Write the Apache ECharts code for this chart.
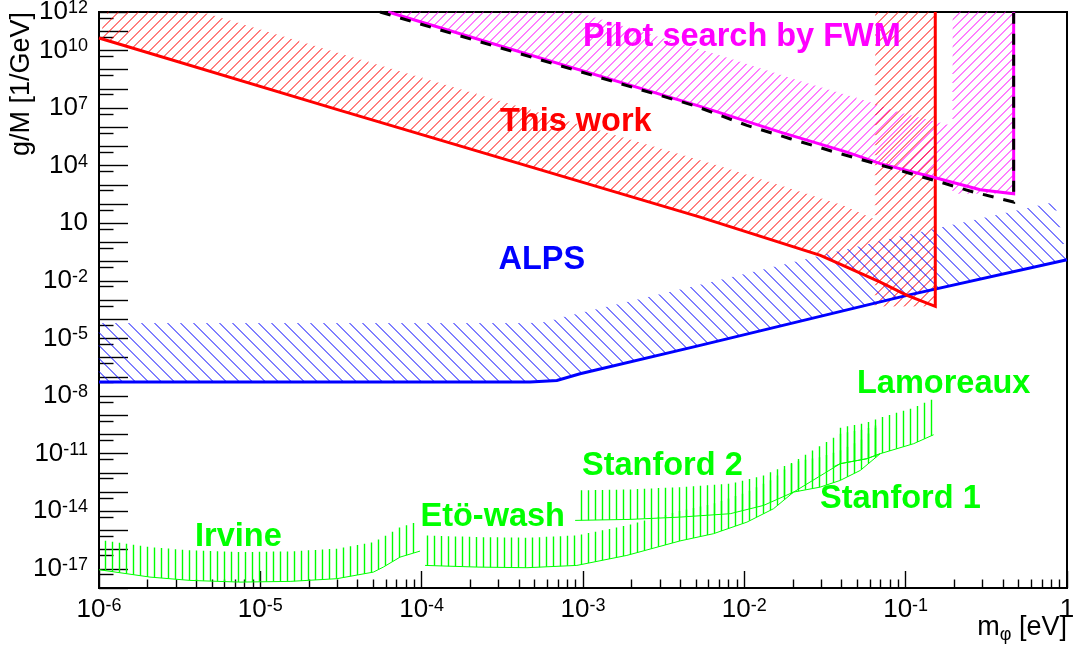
<!DOCTYPE html>
<html>
<head>
<meta charset="utf-8">
<title>g/M vs m_phi limits</title>
<script src="https://cdn.jsdelivr.net/npm/echarts@6/dist/echarts.min.js"></script>
<style>
html,body{margin:0;padding:0;background:#fff;}
#chart{width:1075px;height:656px;}
</style>
</head>
<body>
<div id="chart"></div>
<script>
// ---------------- data ----------------
const xRange = [1e-6, 1];
const yRange = [1e-18, 1e12];
const xLabelValues = [1e-6, 1e-5, 1e-4, 1e-3, 1e-2, 1e-1, 1];
const yLabelValues = [1e12, 1e10, 1e7, 1e4, 10, 1e-2, 1e-5, 1e-8, 1e-11, 1e-14, 1e-17];

// "This work" (red)
const thisWork = [[1e-6, 4.4e10], [3.12e-5, 7.5e6], [5.32e-3, 20.8], [0.0296, 0.21],
  [0.0432, 0.0517], [0.0696, 8.55e-3], [0.102, 1.74e-3], [0.1526, 4.64e-4], [0.1526, 1e12]];
// "Pilot search by FWM" (magenta)
const pilotFWM = [[6.2e-5, 1e12], [5.32e-3, 1.21e7], [0.0167, 5.56e5], [0.0432, 5.05e4],
  [0.0696, 1.26e4], [0.1526, 2.34e3], [0.29, 556], [0.467, 344], [0.467, 1e12]];
// black dashed companion of the FWM limit
const pilotFWMDashed = [[5.52e-5, 1e12], [4.84e-3, 1.37e7], [0.01038, 1.24e6], [0.01925, 2.52e5],
  [0.0393, 4.17e4], [0.0841, 6.9e3], [0.1638, 1.38e3], [0.2637, 417], [0.467, 126], [0.467, 1e12]];
// ALPS (blue)
const alps = [[1e-6, 5.3e-8], [4.7e-4, 5.3e-8], [6.89e-4, 6.46e-8], [9.59e-4, 1.45e-7],
  [5.32e-3, 4.32e-6], [0.102, 1.74e-3], [1, 0.1256]];
// green fifth-force limits
const irvine = [[1e-6, 8.97e-18], [2.07e-6, 3.7e-18], [3.66e-6, 2.49e-18], [7.48e-6, 2.03e-18],
  [1.53e-5, 2.21e-18], [2.98e-5, 3.05e-18], [5.02e-5, 6.73e-18], [5.79e-5, 1.23e-17],
  [7.35e-5, 4.07e-17], [9.77e-5, 8.36e-17]];
const etoWash = [[1.05e-4, 1.5e-17], [2.2e-4, 1.23e-17], [4.49e-4, 1.14e-17], [9.16e-4, 1.5e-17],
  [1.87e-3, 4.99e-17], [4.0e-3, 2.84e-16]];
const stanford1 = [[4.0e-3, 2.84e-16], [6.44e-3, 6.73e-16], [0.01038, 2.7e-15], [0.01517, 1.35e-14],
  [0.0202, 9.9e-14], [0.02955, 1.8e-13], [0.0393, 4.02e-13], [0.0523, 1.33e-12], [0.0696, 9.9e-12]];
const stanford2 = [[8.94e-4, 3.32e-15], [1.96e-3, 3.74e-15], [4.0e-3, 4.93e-15], [8.18e-3, 7.41e-15],
  [0.01315, 2.0e-14], [0.0202, 9.9e-14], [0.0393, 2.98e-12], [0.0575, 5.42e-12], [0.0696, 9.9e-12]];
const lamoreaux = [[0.0361, 2.15e-12], [0.0393, 2.98e-12], [0.0575, 5.42e-12], [0.0696, 9.9e-12],
  [0.112, 3.28e-11], [0.149, 9.6e-11]];

// ---------------- axis tick values ----------------
const xMajorTicks = [], xMinorTicks = [], yMajorTicks = [], yMinorTicks = [];
for (let e = -6; e <= 0; e++) xMajorTicks.push(Number('1e' + e));
for (let e = -6; e <= -1; e++) for (let k = 2; k <= 9; k++) xMinorTicks.push(Number(k + 'e' + e));
for (let e = -18; e <= 12; e++) yMajorTicks.push(Number('1e' + e));
for (let e = -18; e <= 11; e++) yMinorTicks.push(Number('5e' + e));

// ---------------- helpers ----------------
const FONT = '"Liberation Sans", Arial, Helvetica, sans-serif';

function clipPoly(poly, x0, y0, x1, y1) {
  const edges = [
    [p => p[0] >= x0, (a, b) => { const t = (x0 - a[0]) / (b[0] - a[0]); return [x0, a[1] + t * (b[1] - a[1])]; }],
    [p => p[0] <= x1, (a, b) => { const t = (x1 - a[0]) / (b[0] - a[0]); return [x1, a[1] + t * (b[1] - a[1])]; }],
    [p => p[1] >= y0, (a, b) => { const t = (y0 - a[1]) / (b[1] - a[1]); return [a[0] + t * (b[0] - a[0]), y0]; }],
    [p => p[1] <= y1, (a, b) => { const t = (y1 - a[1]) / (b[1] - a[1]); return [a[0] + t * (b[0] - a[0]), y1]; }]
  ];
  let out = poly;
  for (const [inside, inter] of edges) {
    const input = out; out = [];
    if (!input.length) break;
    for (let i = 0; i < input.length; i++) {
      const cur = input[i], prev = input[(i + input.length - 1) % input.length];
      const ci = inside(cur), pi = inside(prev);
      if (ci) { if (!pi) out.push(inter(prev, cur)); out.push(cur); }
      else if (pi) out.push(inter(prev, cur));
    }
  }
  return out;
}

// hatch lines (ROOT style) inside a union of convex polygons
function hatchPath(polys, kind, period, phase) {
  const f = kind === '/' ? (p => p[0] + p[1]) : kind === '\\' ? (p => p[0] - p[1]) : (p => p[0]);
  const tf = kind === 'v' ? (p => p[1]) : (p => p[0]);
  const groups = {};
  polys.forEach(poly => {
    if (poly.length < 3) return;
    const fv = poly.map(f);
    const lo = Math.min.apply(null, fv), hi = Math.max.apply(null, fv);
    for (let k = Math.ceil((lo - phase) / period); k * period + phase <= hi; k++) {
      const c = k * period + phase;
      const ts = [];
      for (let i = 0; i < poly.length; i++) {
        const j = (i + 1) % poly.length;
        const fa = fv[i] - c, fb = fv[j] - c;
        if ((fa < 0 && fb >= 0) || (fa >= 0 && fb < 0)) {
          const s = fa / (fa - fb);
          const a = poly[i], b = poly[j];
          ts.push(tf([a[0] + s * (b[0] - a[0]), a[1] + s * (b[1] - a[1])]));
        }
      }
      if (ts.length >= 2) {
        const t0 = Math.min.apply(null, ts), t1 = Math.max.apply(null, ts);
        if (t1 - t0 > 0.01) (groups[k] = groups[k] || []).push([t0, t1]);
      }
    }
  });
  let d = '';
  Object.keys(groups).forEach(key => {
    const k = Number(key), c = k * period + phase;
    const iv = groups[key].sort((a, b) => a[0] - b[0]);
    const merged = [];
    iv.forEach(s => {
      const last = merged[merged.length - 1];
      if (last && s[0] <= last[1] + 0.01) last[1] = Math.max(last[1], s[1]);
      else merged.push([s[0], s[1]]);
    });
    merged.forEach(s => {
      let a, b;
      if (kind === '/') { a = [s[0], c - s[0]]; b = [s[1], c - s[1]]; }
      else if (kind === '\\') { a = [s[0], s[0] - c]; b = [s[1], s[1] - c]; }
      else { a = [c, s[0]]; b = [c, s[1]]; }
      d += 'M' + a[0].toFixed(2) + ' ' + a[1].toFixed(2) + 'L' + b[0].toFixed(2) + ' ' + b[1].toFixed(2);
    });
  });
  return d;
}

// hatched band on the left side of the travel direction (ROOT negative line width)
function sideBandPolys(P, wx, wy) {
  const polys = [], offs = [], dirs = [];
  for (let i = 0; i < P.length - 1; i++) {
    const p = P[i], q = P[i + 1];
    const dx = q[0] - p[0], dy = q[1] - p[1];
    const L = Math.hypot(dx, dy) || 1;
    const o = [dy / L * wx, -dx / L * wy];
    offs.push(o); dirs.push([dx, dy]);
    polys.push([p, q, [q[0] + o[0], q[1] + o[1]], [p[0] + o[0], p[1] + o[1]]]);
  }
  for (let i = 1; i < P.length - 1; i++) {
    const a = dirs[i - 1], b = dirs[i];
    if (a[0] * b[1] - a[1] * b[0] > 0) {
      const v = P[i], o1 = offs[i - 1], o2 = offs[i];
      polys.push([v, [v[0] + o1[0], v[1] + o1[1]], [v[0] + o2[0], v[1] + o2[1]]]);
    }
  }
  return polys;
}
function sideBand(pts, wx, wy, color, kind, period, xMax) {
  return {
    type: 'custom', coordinateSystem: 'cartesian2d', data: [pts[0]], z: 1, silent: true,
    renderItem: function (params, api) {
      const cs = params.coordSys;
      const P = pts.map(p => api.coord(p));
      let x1 = cs.x + cs.width;
      if (xMax != null) x1 = Math.min(x1, api.coord([xMax, pts[0][1]])[0] + 0.5);
      const polys = sideBandPolys(P, wx, wy).map(p => clipPoly(p, cs.x, cs.y, x1, cs.y + cs.height));
      return { type: 'path', shape: { pathData: hatchPath(polys, kind, period, 0.5) },
        style: { fill: 'none', stroke: color, lineWidth: 1 } };
    }
  };
}
function vBand(pts, h, color) {
  return {
    type: 'custom', coordinateSystem: 'cartesian2d', data: [pts[0]], z: 1, silent: true,
    renderItem: function (params, api) {
      const cs = params.coordSys;
      const P = pts.map(p => api.coord(p));
      const polys = [];
      for (let i = 0; i < P.length - 1; i++) {
        const a = P[i], b = P[i + 1];
        polys.push(clipPoly([a, b, [b[0], b[1] - h], [a[0], a[1] - h]], cs.x, cs.y, cs.x + cs.width, cs.y + cs.height));
      }
      return { type: 'path', shape: { pathData: hatchPath(polys, 'v', 7, 0.5) },
        style: { fill: 'none', stroke: color, lineWidth: 1.4 } };
    }
  };
}
function line(data, color, width, type, z) {
  return {
    type: 'line', data: data, symbol: 'none', showSymbol: false, silent: true, clip: true, z: z || 3,
    lineStyle: { color: color, width: width, type: type || 'solid', cap: 'butt', join: 'miter' }
  };
}
function expLabel(v) {
  const e = Math.round(Math.log10(v));
  if (e === 0) return '{b|1}';
  if (e === 1) return '{b|10}';
  return '{b|10}{s|' + e + '}';
}
const labelRich = {
  b: { fontSize: 26, lineHeight: 26, verticalAlign: 'bottom', fontFamily: FONT, color: '#000' },
  s: { fontSize: 18, lineHeight: 18, padding: [0, 0, 12, 0], verticalAlign: 'top', fontFamily: FONT, color: '#000' }
};

const green = '#00ff00';

const series = [
  sideBand(pilotFWM, 61, 54, '#ff00ff', '/', 9, 0.467),
  sideBand(thisWork, 60, 54, '#ff0000', '/', 10, 0.1526),
  sideBand(alps, 59, 59, '#0000ff', '\\', 13),
  vBand(irvine, 30, green),
  vBand(etoWash, 30, green),
  vBand(stanford1, 30, green),
  vBand(stanford2, 30, green),
  vBand(lamoreaux, 36, green),
  line(irvine, green, 1),
  line(etoWash, green, 1),
  line(stanford1, green, 1),
  line(stanford2, green, 1),
  line(lamoreaux, green, 1),
  line(alps, '#0000ff', 3),
  line(thisWork, '#ff0000', 3),
  line(pilotFWM, '#ff00ff', 3),
  line(pilotFWMDashed, '#000000', 3, [11, 10], 4)
];

function textEl(txt, x, y, color) {
  return { type: 'text', x: x, y: y, z: 100, silent: true,
    style: { text: txt, fill: color, font: 'bold 32.5px ' + FONT, textAlign: 'left', textVerticalAlign: 'middle' } };
}

const chart = echarts.init(document.getElementById('chart'), null, { renderer: 'canvas' });
chart.setOption({
  animation: false,
  backgroundColor: '#ffffff',
  textStyle: { fontFamily: FONT, color: '#000' },
  grid: { left: 99, right: 8, top: 12, bottom: 68, containLabel: false, outerBoundsMode: 'none',
    show: true, borderColor: '#000', borderWidth: 2, backgroundColor: 'transparent' },
  xAxis: [
    { type: 'log', min: xRange[0], max: xRange[1], position: 'bottom',
      axisLine: { show: true, onZero: false, lineStyle: { color: '#000', width: 2 } },
      axisTick: { show: true, inside: true, length: 17, customValues: xMajorTicks, lineStyle: { color: '#000', width: 1.4 } },
      minorTick: { show: false }, splitLine: { show: false },
      axisLabel: { show: true, margin: 9, customValues: xLabelValues, formatter: expLabel, rich: labelRich } },
    { type: 'log', min: xRange[0], max: xRange[1], position: 'bottom',
      axisLine: { show: false },
      axisTick: { show: true, inside: true, length: 8.5, customValues: xMinorTicks, lineStyle: { color: '#000', width: 1.4 } },
      minorTick: { show: false }, splitLine: { show: false }, axisLabel: { show: false } }
  ],
  yAxis: [
    { type: 'log', min: yRange[0], max: yRange[1], position: 'left',
      axisLine: { show: true, onZero: false, lineStyle: { color: '#000', width: 2 } },
      axisTick: { show: true, inside: true, length: 29, customValues: yMajorTicks, lineStyle: { color: '#000', width: 1.4 } },
      minorTick: { show: false }, splitLine: { show: false },
      axisLabel: { show: true, margin: 11, customValues: yLabelValues, formatter: expLabel, rich: labelRich } },
    { type: 'log', min: yRange[0], max: yRange[1], position: 'left',
      axisLine: { show: false },
      axisTick: { show: true, inside: true, length: 14.5, customValues: yMinorTicks, lineStyle: { color: '#000', width: 1.4 } },
      minorTick: { show: false }, splitLine: { show: false }, axisLabel: { show: false } }
  ],
  series: series,
  graphic: [
    { type: 'text', x: 22, y: 12, rotation: Math.PI / 2, z: 100, silent: true,
      style: { text: 'g/M [1/GeV]', fill: '#000', font: '27px ' + FONT, textAlign: 'right', textVerticalAlign: 'middle' } },
    { type: 'text', x: 1067, y: 614, z: 100, silent: true,
      style: { text: '{a|m}{b|φ}{a| [eV]}', textAlign: 'right', textVerticalAlign: 'top',
        rich: {
          a: { fontSize: 27, lineHeight: 30, verticalAlign: 'top', fontFamily: FONT, fill: '#000' },
          b: { fontSize: 18, lineHeight: 18, padding: [18, 0, 0, 0], verticalAlign: 'bottom', fontFamily: FONT, fill: '#000' }
        } } },
    textEl('Pilot search by FWM', 583, 37.5, '#ff00ff'),
    textEl('This work', 500, 121.7, '#ff0000'),
    textEl('ALPS', 498.5, 259.7, '#0000ff'),
    textEl('Lamoreaux', 857, 384, green),
    textEl('Stanford 2', 582, 466, green),
    textEl('Stanford 1', 820, 499, green),
    textEl('Etö-wash', 420.5, 517, green),
    textEl('Irvine', 195, 536.7, green)
  ]
});
</script>
</body>
</html>
